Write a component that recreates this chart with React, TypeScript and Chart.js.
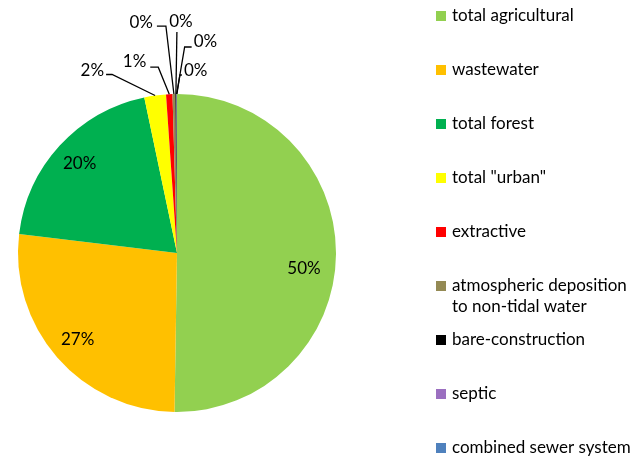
import React, { useEffect, useRef } from "react";
import { Chart, registerables } from "chart.js";

Chart.register(...registerables);

const categories = [
  "total agricultural",
  "wastewater",
  "total forest",
  'total "urban"',
  "extractive",
  "atmospheric deposition to non-tidal water",
  "bare-construction",
  "septic",
  "combined sewer system",
];
const legendLines = [
  ["total agricultural"],
  ["wastewater"],
  ["total forest"],
  ['total "urban"'],
  ["extractive"],
  ["atmospheric deposition", "to non-tidal water"],
  ["bare-construction"],
  ["septic"],
  ["combined sewer system"],
];
const values = [50.25, 26.65, 19.8, 2.2, 0.65, 0.28, 0.12, 0.03, 0.02];
const colors = [
  "#92D050",
  "#FFC000",
  "#00B050",
  "#FFFF00",
  "#FF0000",
  "#948A54",
  "#000000",
  "#9B6FC0",
  "#4F81BD",
];

// label placement styling (offsets in px)
type LabelLayout =
  | { inside: true; dx: number; dy: number }
  | { inside: false; ex: number; ey: number; h: number; align: CanvasTextAlign; tx: number; ty: number };
const labelLayout: LabelLayout[] = [
  { inside: true, dx: -5, dy: 14 },
  { inside: true, dx: 0, dy: 0 },
  { inside: true, dx: 0, dy: 0 },
  { inside: false, ex: -43, ey: -21, h: -6, align: "right", tx: -2, ty: -4 },
  { inside: false, ex: -11, ey: -27, h: -8, align: "right", tx: -4, ty: -6 },
  { inside: false, ex: -8, ey: -68, h: -9, align: "right", tx: -4, ty: -4 },
  { inside: false, ex: 1, ey: -62, h: 0, align: "center", tx: 4, ty: -10 },
  { inside: false, ex: 8, ey: -47, h: 7, align: "left", tx: 2, ty: -5 },
  { inside: false, ex: 3, ey: -19, h: 2, align: "left", tx: 2, ty: -4 },
];

const FONT = "17px Lato, 'Open Sans', sans-serif";

const labelsPlugin = {
  id: "pieLabels",
  afterDatasetsDraw(chart: any) {
    const ctx = chart.ctx as CanvasRenderingContext2D;
    const meta = chart.getDatasetMeta(0);
    const data = chart.data.datasets[0].data as number[];
    const total = data.reduce((a, b) => a + b, 0);
    ctx.save();
    ctx.font = FONT;
    ctx.fillStyle = "#000";
    ctx.strokeStyle = "#000";
    ctx.lineWidth = 1.3;
    ctx.textBaseline = "middle";
    meta.data.forEach((arc: any, i: number) => {
      const p = arc.getProps(["x", "y", "startAngle", "endAngle", "outerRadius"], true);
      const mid = (p.startAngle + p.endAngle) / 2;
      const text = Math.round((data[i] / total) * 100) + "%";
      const L = labelLayout[i];
      if (L.inside) {
        const r = p.outerRadius * 0.83;
        ctx.textAlign = "center";
        ctx.fillText(text, p.x + Math.cos(mid) * r + L.dx, p.y + Math.sin(mid) * r + L.dy);
      } else {
        const ax = p.x + Math.cos(mid) * p.outerRadius;
        const ay = p.y + Math.sin(mid) * p.outerRadius;
        const ex = ax + L.ex;
        const ey = ay + L.ey;
        const hx = ex + L.h;
        ctx.beginPath();
        ctx.moveTo(ax, ay);
        ctx.lineTo(ex, ey);
        if (L.h !== 0) ctx.lineTo(hx, ey);
        ctx.stroke();
        ctx.textAlign = L.align;
        ctx.fillText(text, hx + L.tx, ey + L.ty);
      }
    });
    ctx.restore();
  },
};

const legendPlugin = {
  id: "customLegend",
  afterDraw(chart: any) {
    const ctx = chart.ctx as CanvasRenderingContext2D;
    ctx.save();
    ctx.font = FONT;
    ctx.textBaseline = "middle";
    ctx.textAlign = "left";
    const x0 = 436;
    const y0 = 16;
    const step = 54;
    legendLines.forEach((lines, i) => {
      const y = y0 + step * i;
      ctx.fillStyle = colors[i];
      ctx.fillRect(x0, y - 5, 10, 10);
      ctx.fillStyle = "#000";
      lines.forEach((t, j) => ctx.fillText(t, x0 + 16, y + j * 21));
    });
    ctx.restore();
  },
};

export default function App() {
  const ref = useRef<HTMLCanvasElement>(null);
  useEffect(() => {
    if (!ref.current) return;
    const chart = new Chart(ref.current, {
      type: "pie",
      data: {
        labels: categories,
        datasets: [
          {
            data: values,
            backgroundColor: colors,
            borderWidth: 0,
          },
        ],
      },
      options: {
        responsive: false,
        animation: false,
        layout: { padding: { left: 18, top: 94, right: 299, bottom: 46 } },
        plugins: { legend: { display: false }, tooltip: { enabled: false } },
      },
      plugins: [labelsPlugin, legendPlugin],
    });
    return () => chart.destroy();
  }, []);
  return (
    <div style={{ position: "absolute", left: 0, top: 0, width: 635, height: 458, background: "#fff" }}>
      <canvas ref={ref} width={635} height={458} />
    </div>
  );
}
